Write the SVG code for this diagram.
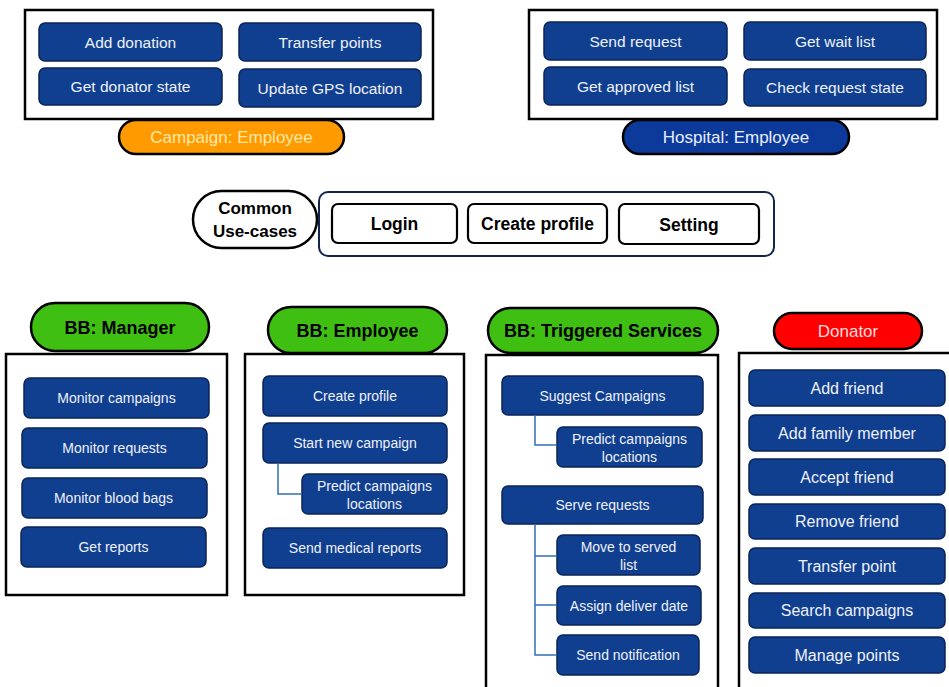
<svg xmlns="http://www.w3.org/2000/svg" width="949" height="687" viewBox="0 0 949 687">
  <style>
    .frame { fill: #ffffff; stroke: #000000; stroke-width: 2.5; }
    .frame-navy { fill: #ffffff; stroke: #13244f; stroke-width: 2; }
    .uc { fill: #113f90; stroke: #0a2456; stroke-width: 1.5; }
    .plain { fill: #ffffff; stroke: #000000; stroke-width: 2.2; }
    .pill { stroke: #000000; stroke-width: 2.5; }
    .t { font-family: "Liberation Sans", Arial, sans-serif; text-anchor: middle; dominant-baseline: central; }
    .uc-t { fill: #eef1fa; font-size: 15.5px; }
    .uc-s { fill: #eef1fa; font-size: 14px; }
    .uc-d { fill: #eef1fa; font-size: 16px; }
    .bold { font-weight: bold; fill: #000000; }
    .link { fill: none; stroke: #2f6fb5; stroke-width: 1.5; }
  </style>

  <!-- Campaign employee -->
  <g id="campaign-employee">
    <rect class="frame" x="25" y="10" width="408" height="109"/>
    <g id="add-donation"><rect class="uc" x="39" y="23" width="183" height="38" rx="6"/><text class="t uc-t" x="130.5" y="42">Add donation</text></g>
    <g id="transfer-points"><rect class="uc" x="239" y="23" width="182" height="38" rx="6"/><text class="t uc-t" x="330" y="42">Transfer points</text></g>
    <g id="get-donator-state"><rect class="uc" x="39" y="68" width="183" height="37" rx="6"/><text class="t uc-t" x="130.5" y="86.5">Get donator state</text></g>
    <g id="update-gps"><rect class="uc" x="239" y="69" width="182" height="38" rx="6"/><text class="t uc-t" x="330" y="88">Update GPS location</text></g>
    <g id="campaign-label"><rect class="pill" x="119" y="120" width="225" height="34" rx="17" fill="#ff9a00"/><text class="t" x="231.5" y="137" font-size="17" fill="#ffe9a6">Campaign: Employee</text></g>
  </g>

  <!-- Hospital employee -->
  <g id="hospital-employee">
    <rect class="frame" x="529" y="10" width="408" height="109"/>
    <g id="send-request"><rect class="uc" x="544" y="22" width="183" height="38" rx="6"/><text class="t uc-t" x="635.5" y="41">Send request</text></g>
    <g id="get-wait-list"><rect class="uc" x="744" y="22" width="182" height="38" rx="6"/><text class="t uc-t" x="835" y="41">Get wait list</text></g>
    <g id="get-approved-list"><rect class="uc" x="544" y="67" width="183" height="38" rx="6"/><text class="t uc-t" x="635.5" y="86">Get approved list</text></g>
    <g id="check-request-state"><rect class="uc" x="744" y="69" width="182" height="37" rx="6"/><text class="t uc-t" x="835" y="87.5">Check request state</text></g>
    <g id="hospital-label"><rect class="pill" x="623" y="120" width="226" height="34" rx="17" fill="#0c3a9b"/><text class="t" x="736" y="137" font-size="17" fill="#e8eeff">Hospital: Employee</text></g>
  </g>

  <!-- Common use-cases -->
  <g id="common">
    <g id="common-label"><rect class="pill" x="193" y="191" width="124" height="57" rx="28.5" fill="#ffffff"/>
      <text class="t bold" x="255" y="208" font-size="17">Common</text>
      <text class="t bold" x="255" y="231" font-size="17">Use-cases</text></g>
    <rect class="frame-navy" x="319" y="192" width="455" height="64" rx="9"/>
    <g id="login"><rect class="plain" x="332" y="204" width="125" height="39" rx="6"/><text class="t bold" x="394.5" y="224" font-size="17.5">Login</text></g>
    <g id="create-profile"><rect class="plain" x="468" y="204" width="139" height="39" rx="6"/><text class="t bold" x="537.5" y="224" font-size="17.5">Create profile</text></g>
    <g id="setting"><rect class="plain" x="619" y="204" width="140" height="40" rx="6"/><text class="t bold" x="689" y="224.5" font-size="17.5">Setting</text></g>
  </g>

  <!-- Blood bank manager -->
  <g id="bb-manager">
    <rect class="frame" x="6" y="354" width="221" height="241"/>
    <g id="bb-manager-label"><rect class="pill" x="31" y="303" width="178" height="48" rx="24" fill="#3fbf12"/><text class="t bold" x="120" y="327.5" font-size="18">BB: Manager</text></g>
    <g id="monitor-campaigns"><rect class="uc" x="24" y="378" width="185" height="40" rx="6"/><text class="t uc-s" x="116.5" y="398">Monitor campaigns</text></g>
    <g id="monitor-requests"><rect class="uc" x="22" y="428" width="185" height="40" rx="6"/><text class="t uc-s" x="114.5" y="448">Monitor requests</text></g>
    <g id="monitor-blood-bags"><rect class="uc" x="22" y="478" width="185" height="40" rx="6"/><text class="t uc-s" x="113.5" y="498">Monitor blood bags</text></g>
    <g id="get-reports"><rect class="uc" x="21" y="527" width="185" height="40" rx="6"/><text class="t uc-s" x="113.5" y="547">Get reports</text></g>
  </g>

  <!-- Blood bank employee -->
  <g id="bb-employee">
    <rect class="frame" x="245" y="354" width="219" height="241"/>
    <g id="bb-employee-label"><rect class="pill" x="268" y="307" width="179" height="46" rx="23" fill="#3fbf12"/><text class="t bold" x="357.5" y="330.5" font-size="18">BB: Employee</text></g>
    <g id="emp-create-profile"><rect class="uc" x="263" y="376" width="184" height="40" rx="6"/><text class="t uc-s" x="355" y="396">Create profile</text></g>
    <g id="start-new-campaign"><rect class="uc" x="263" y="423" width="184" height="40" rx="6"/><text class="t uc-s" x="355" y="443">Start new campaign</text></g>
    <g id="emp-predict-locations"><rect class="uc" x="302" y="474" width="145" height="40" rx="6"/>
      <text class="t uc-s" x="374.5" y="485.5">Predict campaigns</text>
      <text class="t uc-s" x="374.5" y="503.5">locations</text></g>
    <g id="send-medical-reports"><rect class="uc" x="263" y="528" width="184" height="40" rx="6"/><text class="t uc-s" x="355" y="548">Send medical reports</text></g>
  </g>

  <!-- Blood bank triggered services -->
  <g id="bb-triggered">
    <rect class="frame" x="486" y="355" width="232" height="345"/>
    <g id="bb-triggered-label"><rect class="pill" x="488" y="308" width="230" height="45" rx="22.5" fill="#3fbf12"/><text class="t bold" x="603" y="331" font-size="18">BB: Triggered Services</text></g>
    <g id="suggest-campaigns"><rect class="uc" x="502" y="376" width="201" height="39" rx="6"/><text class="t uc-s" x="602.5" y="395.5">Suggest Campaigns</text></g>
    <g id="trig-predict-locations"><rect class="uc" x="557" y="427" width="145" height="40" rx="6"/>
      <text class="t uc-s" x="629.5" y="438.5">Predict campaigns</text>
      <text class="t uc-s" x="629.5" y="456.5">locations</text></g>
    <g id="serve-requests"><rect class="uc" x="502" y="486" width="201" height="38" rx="6"/><text class="t uc-s" x="602.5" y="505">Serve requests</text></g>
    <g id="move-to-served"><rect class="uc" x="557" y="535" width="143" height="40" rx="6"/>
      <text class="t uc-s" x="628.5" y="546.5">Move to served</text>
      <text class="t uc-s" x="628.5" y="564.5">list</text></g>
    <g id="assign-deliver-date"><rect class="uc" x="557" y="586" width="144" height="39" rx="6"/><text class="t uc-s" x="629" y="605.5">Assign deliver date</text></g>
    <g id="send-notification"><rect class="uc" x="557" y="635" width="142" height="40" rx="6"/><text class="t uc-s" x="628" y="655">Send notification</text></g>
  </g>

  <!-- Donator -->
  <g id="donator">
    <rect class="frame" x="739" y="353" width="230" height="350"/>
    <g id="donator-label"><rect class="pill" x="774" y="313" width="148" height="36" rx="18" fill="#ff0000"/><text class="t" x="848" y="331" font-size="17" fill="#ffdede">Donator</text></g>
    <g id="add-friend"><rect class="uc" x="749" y="370" width="196" height="36" rx="6"/><text class="t uc-d" x="847" y="388">Add friend</text></g>
    <g id="add-family-member"><rect class="uc" x="749" y="415" width="196" height="36" rx="6"/><text class="t uc-d" x="847" y="433">Add family member</text></g>
    <g id="accept-friend"><rect class="uc" x="749" y="459" width="196" height="36" rx="6"/><text class="t uc-d" x="847" y="477">Accept friend</text></g>
    <g id="remove-friend"><rect class="uc" x="749" y="504" width="196" height="35" rx="6"/><text class="t uc-d" x="847" y="521.5">Remove friend</text></g>
    <g id="transfer-point"><rect class="uc" x="749" y="548" width="196" height="36" rx="6"/><text class="t uc-d" x="847" y="566">Transfer point</text></g>
    <g id="search-campaigns"><rect class="uc" x="749" y="593" width="196" height="35" rx="6"/><text class="t uc-d" x="847" y="610.5">Search campaigns</text></g>
    <g id="manage-points"><rect class="uc" x="749" y="637" width="196" height="36" rx="6"/><text class="t uc-d" x="847" y="655">Manage points</text></g>
  </g>

  <!-- Sub-use-case connectors -->
  <g id="connectors">
    <path class="link" d="M278 463 V494 H302"/>
    <path class="link" d="M535 415 V445 H557"/>
    <path class="link" d="M535 524 V655 H557 M535 556 H557 M535 605 H557"/>
  </g>
</svg>
